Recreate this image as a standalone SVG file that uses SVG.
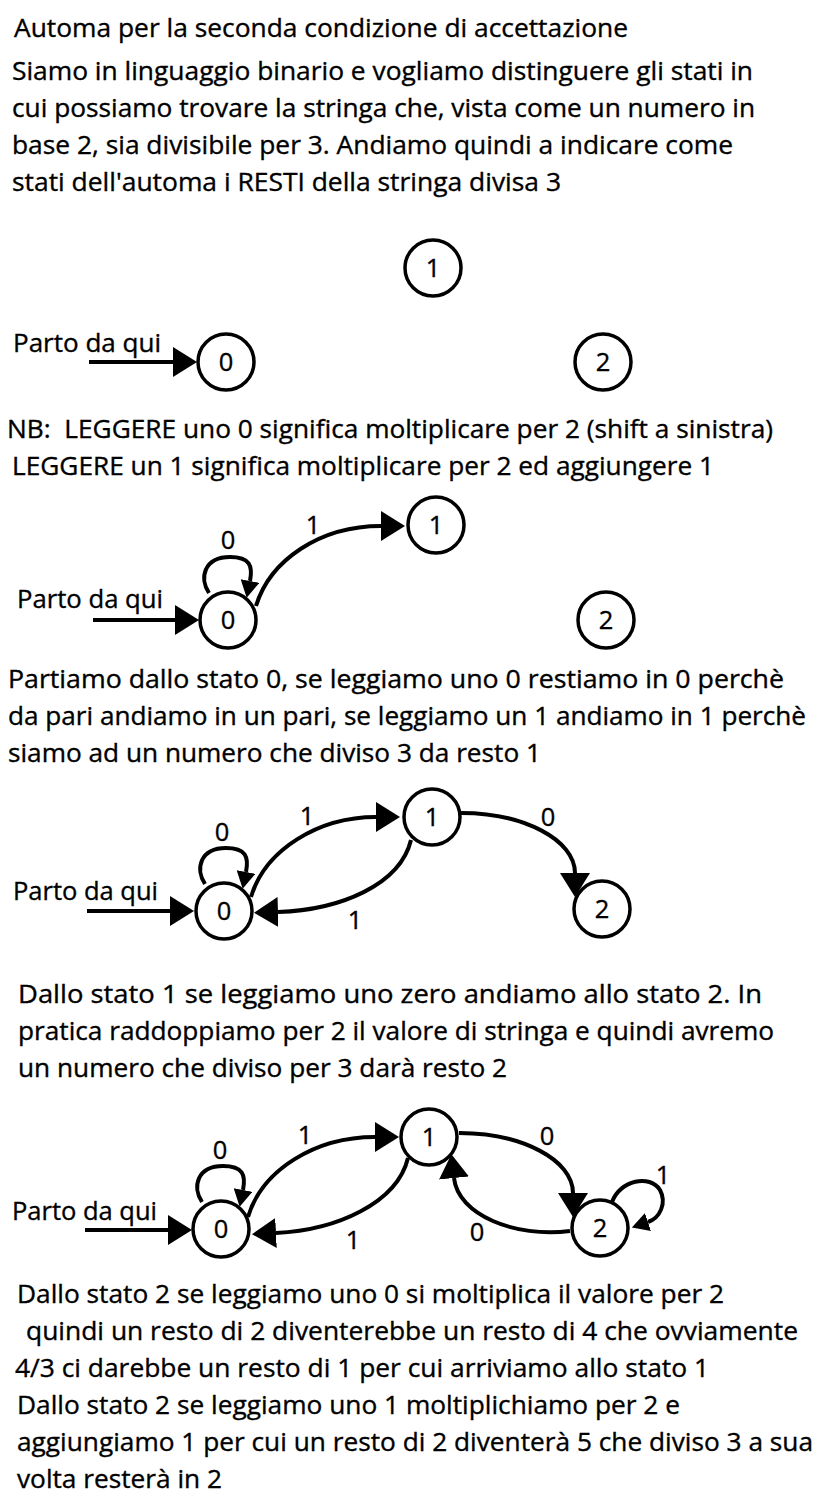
<svg xmlns="http://www.w3.org/2000/svg" width="837" height="1500" viewBox="0 0 837 1500">
<defs>
<marker id="ah" markerUnits="userSpaceOnUse" viewBox="0 0 24 30" markerWidth="24" markerHeight="30" refX="0" refY="15" orient="auto"><path d="M0,0 L24,15 L0,30 z" fill="#000"/></marker>
<marker id="ahs" markerUnits="userSpaceOnUse" viewBox="0 0 17 19" markerWidth="17" markerHeight="19" refX="0" refY="9.5" orient="auto"><path d="M0,0 L17,9.5 L0,19 z" fill="#000"/></marker>
</defs>
<style>
text{font-family:"Open Sans","Liberation Sans",sans-serif;font-size:25.5px;fill:#000;stroke:#000;stroke-width:0.35}
.lbl{text-anchor:middle}
.st circle{fill:#fff;stroke:#000;stroke-width:3.5}
.e{fill:none;stroke:#000;stroke-width:4;marker-end:url(#ah)}
.l{fill:none;stroke:#000;stroke-width:4;marker-end:url(#ahs)}
</style>
<rect width="837" height="1500" fill="#fff"/>
<g id="texts">
<text x="14" y="37" textLength="614" lengthAdjust="spacingAndGlyphs">Automa per la seconda condizione di accettazione</text>
<text x="12" y="80" textLength="741" lengthAdjust="spacingAndGlyphs">Siamo in linguaggio binario e vogliamo distinguere gli stati in</text>
<text x="12" y="117" textLength="743" lengthAdjust="spacingAndGlyphs">cui possiamo trovare la stringa che, vista come un numero in</text>
<text x="12" y="154" textLength="721" lengthAdjust="spacingAndGlyphs">base 2, sia divisibile per 3. Andiamo quindi a indicare come</text>
<text x="12" y="191" textLength="549" lengthAdjust="spacingAndGlyphs">stati dell'automa i RESTI della stringa divisa 3</text>
<text x="7" y="438" textLength="766" lengthAdjust="spacingAndGlyphs" xml:space="preserve">NB:  LEGGERE uno 0 significa moltiplicare per 2 (shift a sinistra)</text>
<text x="12" y="475" textLength="702" lengthAdjust="spacingAndGlyphs">LEGGERE un 1 significa moltiplicare per 2 ed aggiungere 1</text>
<text x="8" y="688" textLength="776" lengthAdjust="spacingAndGlyphs">Partiamo dallo stato 0, se leggiamo uno 0 restiamo in 0 perchè</text>
<text x="8" y="725" textLength="798" lengthAdjust="spacingAndGlyphs">da pari andiamo in un pari, se leggiamo un 1 andiamo in 1 perchè</text>
<text x="8" y="762" textLength="533" lengthAdjust="spacingAndGlyphs">siamo ad un numero che diviso 3 da resto 1</text>
<text x="18" y="1003" textLength="744" lengthAdjust="spacingAndGlyphs">Dallo stato 1 se leggiamo uno zero andiamo allo stato 2. In</text>
<text x="18" y="1040" textLength="756" lengthAdjust="spacingAndGlyphs">pratica raddoppiamo per 2 il valore di stringa e quindi avremo</text>
<text x="18" y="1077" textLength="489" lengthAdjust="spacingAndGlyphs">un numero che diviso per 3 darà resto 2</text>
<text x="17" y="1303" textLength="707" lengthAdjust="spacingAndGlyphs">Dallo stato 2 se leggiamo uno 0 si moltiplica il valore per 2</text>
<text x="26" y="1340" textLength="772" lengthAdjust="spacingAndGlyphs">quindi un resto di 2 diventerebbe un resto di 4 che ovviamente</text>
<text x="15" y="1377" textLength="694" lengthAdjust="spacingAndGlyphs">4/3 ci darebbe un resto di 1 per cui arriviamo allo stato 1</text>
<text x="17" y="1414" textLength="663" lengthAdjust="spacingAndGlyphs">Dallo stato 2 se leggiamo uno 1 moltiplichiamo per 2 e</text>
<text x="17" y="1451" textLength="796" lengthAdjust="spacingAndGlyphs">aggiungiamo 1 per cui un resto di 2 diventerà 5 che diviso 3 a sua</text>
<text x="17" y="1488" textLength="205" lengthAdjust="spacingAndGlyphs">volta resterà in 2</text>
<text x="13" y="352" textLength="148" lengthAdjust="spacingAndGlyphs">Parto da qui</text>
<text x="17" y="608" textLength="146" lengthAdjust="spacingAndGlyphs">Parto da qui</text>
<text x="13" y="900" textLength="145" lengthAdjust="spacingAndGlyphs">Parto da qui</text>
<text x="12" y="1220" textLength="145" lengthAdjust="spacingAndGlyphs">Parto da qui</text>
</g>
<g id="connectors">
<!-- diagram 1 -->
<path class="e" d="M89,362 H173"/>
<!-- diagram 2 -->
<path class="e" d="M93,620 H175"/>
<path class="l" d="M209,593 C199,578 204,557 230,557 C250,557 253,566 250,581"/>
<path class="e" d="M256,606 C270,560 320,526 381,526"/>
<!-- diagram 3 -->
<path class="e" d="M87,911 H170"/>
<path class="l" d="M205,884 C195,869 200,848 226,848 C246,848 249,857 246,872"/>
<path class="e" d="M251,897 C265,850 318,817 376,817"/>
<path class="e" d="M411,840 C400,885 340,910 278,912"/>
<path class="e" d="M461,813 C524,813 575,840 575,873"/>
<!-- diagram 4 -->
<path class="e" d="M85,1230 H168"/>
<path class="l" d="M202,1202 C192,1187 197,1166 223,1166 C243,1166 246,1175 243,1190"/>
<path class="e" d="M248,1217 C262,1170 315,1137 375,1137"/>
<path class="e" d="M408,1158 C397,1203 337,1230 276,1233"/>
<path class="e" d="M459,1133 C522,1133 573,1160 573,1193"/>
<path class="e" d="M570,1231 C515,1238 458,1215 454,1178"/>
<path class="l" d="M612,1202 C620,1180 650,1174 660,1190 C667,1203 660,1218 648,1222"/>
</g>
<g id="edge-labels">
<text class="lbl" x="228" y="549">0</text>
<text class="lbl" x="313" y="534">1</text>
<text class="lbl" x="222" y="841">0</text>
<text class="lbl" x="307" y="825">1</text>
<text class="lbl" x="355" y="929">1</text>
<text class="lbl" x="548" y="826">0</text>
<text class="lbl" x="220" y="1159">0</text>
<text class="lbl" x="305" y="1144">1</text>
<text class="lbl" x="353" y="1249">1</text>
<text class="lbl" x="547" y="1145">0</text>
<text class="lbl" x="477" y="1241">0</text>
<text class="lbl" x="663" y="1184">1</text>
</g>
<g id="d1-s0" class="st"><circle cx="226" cy="362" r="28"/><text class="lbl" x="226" y="371">0</text></g>
<g id="d1-s1" class="st"><circle cx="433" cy="268" r="28"/><text class="lbl" x="433" y="277">1</text></g>
<g id="d1-s2" class="st"><circle cx="603" cy="362" r="28"/><text class="lbl" x="603" y="371">2</text></g>
<g id="d2-s0" class="st"><circle cx="228" cy="620" r="28"/><text class="lbl" x="228" y="629">0</text></g>
<g id="d2-s1" class="st"><circle cx="436" cy="525" r="28"/><text class="lbl" x="436" y="534">1</text></g>
<g id="d2-s2" class="st"><circle cx="606" cy="620" r="28"/><text class="lbl" x="606" y="629">2</text></g>
<g id="d3-s0" class="st"><circle cx="224" cy="911" r="28"/><text class="lbl" x="224" y="920">0</text></g>
<g id="d3-s1" class="st"><circle cx="432" cy="817" r="28"/><text class="lbl" x="432" y="826">1</text></g>
<g id="d3-s2" class="st"><circle cx="602" cy="909" r="28"/><text class="lbl" x="602" y="918">2</text></g>
<g id="d4-s0" class="st"><circle cx="221" cy="1229" r="28"/><text class="lbl" x="221" y="1238">0</text></g>
<g id="d4-s1" class="st"><circle cx="429" cy="1137" r="28"/><text class="lbl" x="429" y="1146">1</text></g>
<g id="d4-s2" class="st"><circle cx="600" cy="1228" r="28"/><text class="lbl" x="600" y="1237">2</text></g>
</svg>
